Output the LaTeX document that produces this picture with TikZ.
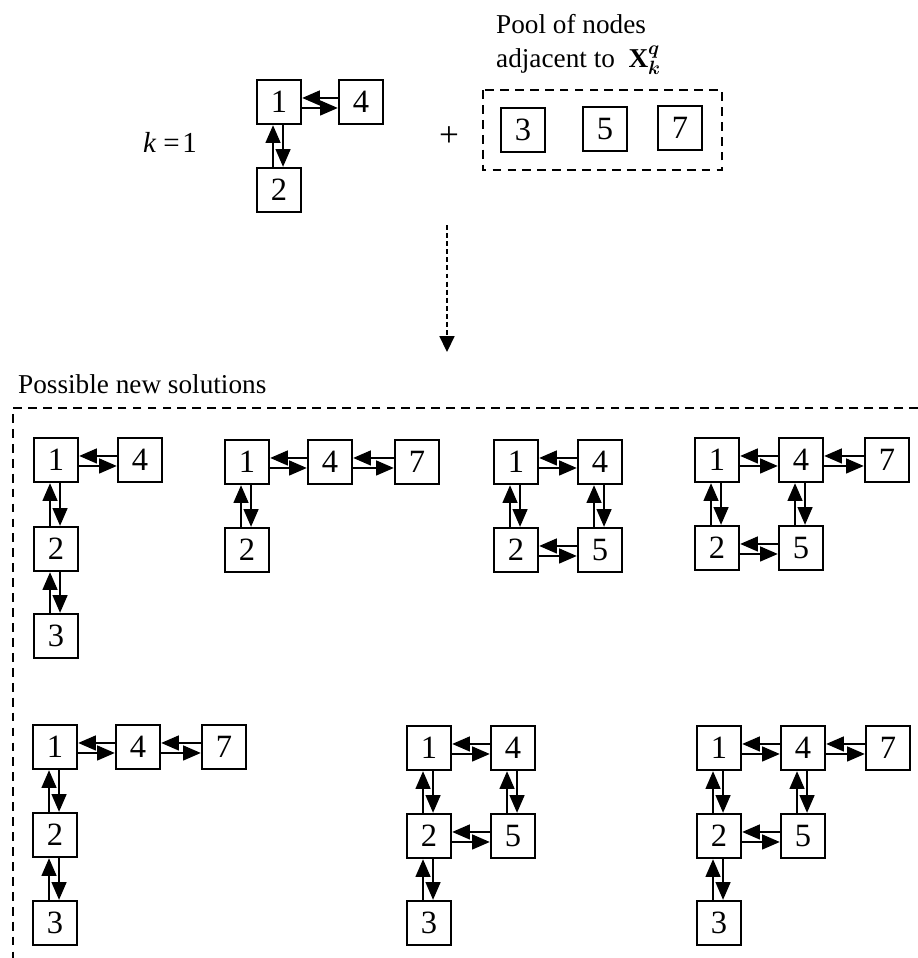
\documentclass[tikz,border=0pt]{standalone}
\usepackage{fontspec}
\setmainfont{Liberation Serif}
\usepackage{bm}
\usepackage{tikz}
\usetikzlibrary{arrows.meta}
\tikzset{
  sq/.style={draw,line width=1.4pt,minimum size=0.88cm,inner sep=0pt,font=\fontsize{18.5}{20}\selectfont},
  link/.style={-{Triangle[length=10pt,width=8.5pt]},line width=0.7pt},
  pool/.style={dash pattern=on 5pt off 3.5pt,line width=1.2pt},
}
% two opposite links between a left box #1 and a right box #2
\newcommand{\hlink}[2]{\path[link] ([yshift=2.3pt]#2.west) edge ([yshift=2.3pt]#1.east)
  ([yshift=-3.4pt]#1.east) edge ([yshift=-3.4pt]#2.west);}
% two opposite links between an upper box #1 and a lower box #2
\newcommand{\vlink}[2]{\path[link] ([xshift=-3.4pt]#2.north) edge ([xshift=-3.4pt]#1.south)
  ([xshift=2.3pt]#1.south) edge ([xshift=2.3pt]#2.north);}

\begin{document}
\begin{tikzpicture}[x=0.02cm,y=-0.02cm,font=\fontsize{15.5}{18}\selectfont]
  \useasboundingbox (0,0) rectangle (918,958);
  \node[font=\fontsize{16.5}{18}\selectfont] (k) at (170,142) {\textit{k}\hspace{4pt}=\hspace{1.5pt}1};
  \node[sq] (t1) at (279,102) {1};
  \node[sq] (t4) at (361,102) {4};
  \node[sq] (t2) at (279,190) {2};
  \hlink{t1}{t4}
  \vlink{t1}{t2}
  \node[font=\fontsize{20}{22}\selectfont] (plus) at (449,137) {+};
  \node[anchor=base west] (pl) at (490,33) {Pool of nodes};
  \node[anchor=base west] (adj) at (490,67) {adjacent to \ $\mathbf{X}_{\bm{k}}^{\bm{q}}$};
  \draw[pool] (483,90) rectangle (722,170);
  \node[sq] (p3) at (523,130) {3};
  \node[sq] (p5) at (605,129) {5};
  \node[sq] (p7) at (680,128) {7};
  \coordinate (from) at (447,225);
  \coordinate (to) at (447,352);
  \draw[dash pattern=on 2.8pt off 1.8pt,line width=0.9pt,-{Triangle[length=9pt,width=8.5pt]}] (from) -- (to);

  \node[anchor=base west] (pns) at (12,393) {Possible new solutions};
  \draw[pool] (918,408) -- (13,408) -- (13,958);

  % first row
  \node[sq] (a1) at (56,460) {1};
  \node[sq] (a4) at (140,460) {4};
  \node[sq] (a2) at (56,549) {2};
  \node[sq] (a3) at (56,636) {3};
  \hlink{a1}{a4}
  \vlink{a1}{a2}
  \vlink{a2}{a3}

  \node[sq] (b1) at (247,462) {1};
  \node[sq] (b4) at (330,462) {4};
  \node[sq] (b7) at (417,462) {7};
  \node[sq] (b2) at (247,550) {2};
  \hlink{b1}{b4}
  \hlink{b4}{b7}
  \vlink{b1}{b2}

  \node[sq] (c1) at (516,462) {1};
  \node[sq] (c4) at (600,462) {4};
  \node[sq] (c2) at (516,550) {2};
  \node[sq] (c5) at (600,550) {5};
  \hlink{c1}{c4}
  \hlink{c2}{c5}
  \vlink{c1}{c2}
  \vlink{c4}{c5}

  \node[sq] (d1) at (717,460) {1};
  \node[sq] (d4) at (801,460) {4};
  \node[sq] (d7) at (887,460) {7};
  \node[sq] (d2) at (717,548) {2};
  \node[sq] (d5) at (801,548) {5};
  \hlink{d1}{d4}
  \hlink{d4}{d7}
  \hlink{d2}{d5}
  \vlink{d1}{d2}
  \vlink{d4}{d5}

  % second row
  \node[sq] (e1) at (55,747) {1};
  \node[sq] (e4) at (138,747) {4};
  \node[sq] (e7) at (224,747) {7};
  \node[sq] (e2) at (55,835) {2};
  \node[sq] (e3) at (55,923) {3};
  \hlink{e1}{e4}
  \hlink{e4}{e7}
  \vlink{e1}{e2}
  \vlink{e2}{e3}

  \node[sq] (f1) at (429,748) {1};
  \node[sq] (f4) at (513,748) {4};
  \node[sq] (f2) at (429,836) {2};
  \node[sq] (f5) at (513,836) {5};
  \node[sq] (f3) at (429,923) {3};
  \hlink{f1}{f4}
  \hlink{f2}{f5}
  \vlink{f1}{f2}
  \vlink{f4}{f5}
  \vlink{f2}{f3}

  \node[sq] (g1) at (719,748) {1};
  \node[sq] (g4) at (803,748) {4};
  \node[sq] (g7) at (888,748) {7};
  \node[sq] (g2) at (719,836) {2};
  \node[sq] (g5) at (803,836) {5};
  \node[sq] (g3) at (719,923) {3};
  \hlink{g1}{g4}
  \hlink{g4}{g7}
  \hlink{g2}{g5}
  \vlink{g1}{g2}
  \vlink{g4}{g5}
  \vlink{g2}{g3}
\end{tikzpicture}
\end{document}
